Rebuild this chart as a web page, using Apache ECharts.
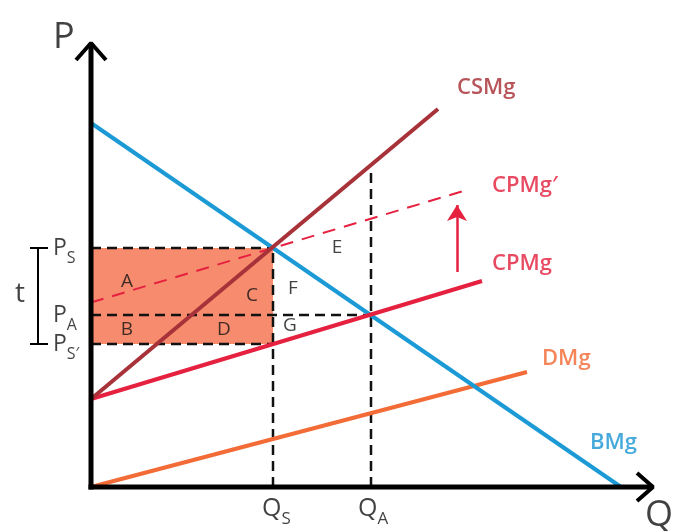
<!DOCTYPE html>
<html><head><meta charset="utf-8">
<script src="https://cdn.jsdelivr.net/npm/echarts@6/dist/echarts.min.js"></script>
<style>html,body{margin:0;padding:0;background:#fff}#c{width:673px;height:531px}</style>
</head><body><div id="c"></div>
<script>
// Key equilibrium values (chart units)
const QS = 36.4, QA = 56, PS = 47.8, PA = 34.4, PSp = 28.6;
// Curves
const bmg = [[0, 72.8], [106, 0]];
const csmg = [[0, 17.6], [69.4, 75.6]];
const cpmg = [[0, 17.6], [78.2, 41.2]];
const cpmgPrime = [[0, 36.9], [75.8, 59.6]];
const dmg = [[0, 0], [87.2, 23]];
// Shift arrow CPMg -> CPMg'
const shiftArrow = [[73.2, 43], [73.2, 56.4]];
// Guide (dashed) lines
const guideH = [[[0, PS], [QS, PS]], [[0, PA], [QA, PA]], [[0, PSp], [QS, PSp]]];
const guideV = [[[QS, 0], [QS, PS]], [[QA, 0], [QA, 63]]];
// Axes with arrowheads
const yAxisLine = [[0, -0.5], [0, 88.8]];
const yArrow = [[-3, 85.4], [0, 88.8], [3, 85.4]];
const xAxisLine = [[-0.5, 0], [112.4, 0]];
const xArrow = [[109.2, 2.8], [112.4, 0], [109.2, -2.8]];
// Tax bracket t
const bracket = [[[-10.6, PS], [-10.6, PSp]], [[-12.2, PS], [-8.6, PS]], [[-12.2, PSp], [-8.6, PSp]]];
// Area letters
const areaLetters = [['A', 7.2, 41], ['B', 7.2, 31.4], ['C', 32.2, 38.2], ['D', 26.6, 31.4], ['E', 49.2, 47.8], ['F', 40.4, 39.6], ['G', 39.8, 32.2]];
// Curve names
const curveNames = [['CSMg', 73.2, 79.8, '#a52a31'], ['CPMg\u2032', 80.2, 60.2, '#e21d3a'], ['CPMg', 80.2, 44.6, '#e21d3a'], ['DMg', 90.2, 25.6, '#f26630'], ['BMg', 99.8, 8.8, '#1795d2']];
// Axis tick labels
const tickLabels = [['{p|P}{s|S}', -7.6, PS], ['{p|P}{s|A}', -7.6, PA], ['{p|P}{s|S\u2032}', -7.6, PSp]];
const qLabels = [['{q|Q}{s|S}', 34.2, -4.4], ['{q|Q}{s|A}', 53.4, -4.4]];
const axisNames = [['P', -7.6, 89.9], ['Q', 110.8, -5.8]];
const tLabel = [['t', -14.2, 38.6]];

const FONT = '"Open Sans", sans-serif';
const WEIGHT = 600;
const BLACK = '#111';

function lineSeries(data, color, width, dashed, z) {
  return {type: 'line', data: data, showSymbol: false, symbol: 'none', clip: false, silent: true,
    lineStyle: {color: color, width: width, type: dashed ? dashed : 'solid', cap: 'butt'}, z: z || 3, animation: false};
}
function textSeries(items, opts) {
  return {type: 'scatter', symbolSize: 0, clip: false, silent: true, animation: false, z: 10,
    data: items.map(it => ({value: [it[1], it[2]], name: it[0],
      label: Object.assign({show: true, position: 'inside', formatter: it[0], fontFamily: FONT, fontWeight: WEIGHT}, opts, it[3] ? {color: it[3]} : {})}))};
}

const series = [];
// shaded rectangle
series.push({type: 'line', data: [], markArea: {silent: true, itemStyle: {color: '#f68b6d', opacity: 1},
  data: [[{coord: [0, PS]}, {coord: [QS, PSp]}]]}, z: 1});
guideH.concat(guideV).forEach(seg => series.push(lineSeries(seg, BLACK, 2.5, [10, 6], 2)));
series.push(lineSeries(dmg, '#f36b36', 4));
series.push(lineSeries(bmg, '#1b9ad6', 4));
series.push(lineSeries(cpmg, '#e5213f', 4));
series.push(lineSeries(cpmgPrime, '#e5213f', 2, [13, 9]));
series.push(lineSeries(csmg, '#a83239', 4));
series.push({type: 'line', data: [], animation: false, markLine: {silent: true, symbol: ['none', 'arrow'], symbolSize: [15, 16],
  label: {show: false}, lineStyle: {color: '#e5213f', width: 2.5, type: 'solid'},
  data: [[{coord: shiftArrow[0]}, {coord: shiftArrow[1]}]]}});
series.push(lineSeries(yAxisLine, '#000', 5, null, 6));
series.push(lineSeries(xAxisLine, '#000', 5, null, 6));
series.push(lineSeries(yArrow, '#000', 4, null, 6));
series.push(lineSeries(xArrow, '#000', 4, null, 6));
bracket.forEach(seg => series.push(lineSeries(seg, '#000', 2, null, 6)));

series.push(textSeries(areaLetters, {fontSize: 19, color: BLACK, align: 'center', verticalAlign: 'middle', fontWeight: 500}));
series.push(textSeries(curveNames, {fontSize: 22, align: 'left', verticalAlign: 'middle'}));
series.push(textSeries(axisNames, {fontSize: 36, color: BLACK, align: 'left', verticalAlign: 'middle', fontWeight: 500}));
series.push(textSeries(tLabel, {fontSize: 28, color: BLACK, align: 'center', verticalAlign: 'middle', fontWeight: 500}));
series.push(textSeries(tickLabels, {align: 'left', verticalAlign: 'middle', color: BLACK,
  rich: {p: {fontSize: 23, lineHeight: 36, fontFamily: FONT, fontWeight: 500, color: BLACK}, s: {fontSize: 16, lineHeight: 16, verticalAlign: 'bottom', fontFamily: FONT, fontWeight: 500, color: BLACK}}}));
series.push(textSeries(qLabels, {align: 'left', verticalAlign: 'middle', color: BLACK,
  rich: {q: {fontSize: 25, lineHeight: 38, fontFamily: FONT, fontWeight: 500, color: BLACK}, s: {fontSize: 17, lineHeight: 17, verticalAlign: 'bottom', fontFamily: FONT, fontWeight: 500, color: BLACK}}}));

const chart = echarts.init(document.getElementById('c'), null, {renderer: 'canvas'});
chart.setOption({
  animation: false,
  backgroundColor: '#fff',
  grid: {left: 0, right: 2, top: 27, bottom: 0, containLabel: false},
  xAxis: {type: 'value', min: -18.2, max: 116, show: false},
  yAxis: {type: 'value', min: -8.8, max: 92, show: false},
  series: series
});
</script></body></html>
